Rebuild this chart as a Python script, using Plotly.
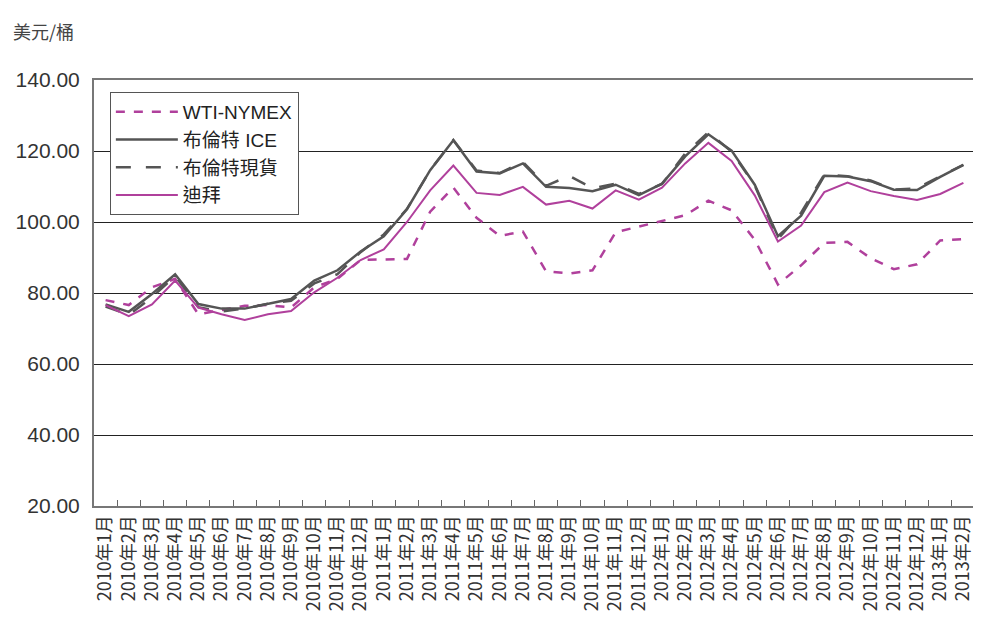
import plotly.graph_objects as go

months = [f"{y}年{m}月" for y in (2010, 2011, 2012) for m in range(1, 13)] + ["2013年1月", "2013年2月"]

wti = [78.0, 76.6, 81.6, 84.0, 74.0, 75.3, 76.4, 76.6, 75.9, 81.6, 84.0, 89.3,
       89.4, 89.6, 102.9, 109.7, 101.2, 96.1, 97.3, 86.1, 85.5, 86.4, 97.1, 98.7,
       100.3, 101.9, 106.0, 103.3, 95.0, 82.4, 87.8, 94.1, 94.4, 89.8, 86.7, 88.1,
       94.8, 95.2]
brent_ice = [76.8, 74.7, 79.7, 85.3, 76.9, 75.6, 75.6, 76.9, 78.3, 83.5, 86.4, 91.7,
             96.0, 103.6, 114.6, 123.0, 114.2, 113.7, 116.5, 109.9, 109.6, 108.7, 110.5, 107.6,
             110.8, 118.5, 124.7, 120.1, 110.5, 96.0, 101.8, 113.0, 112.8, 111.5, 109.1, 109.0,
             112.7, 116.1]
brent_spot = [76.2, 73.8, 78.8, 84.8, 76.0, 74.8, 75.6, 77.0, 77.8, 82.7, 85.3, 91.5,
              96.5, 103.7, 114.6, 123.1, 114.5, 113.8, 116.9, 110.2, 113.0, 109.5, 110.8, 107.9,
              110.7, 119.3, 125.3, 119.8, 110.3, 95.2, 102.6, 113.4, 112.9, 111.7, 109.1, 109.5,
              112.9, 116.1]
dubai = [76.6, 73.5, 76.8, 83.5, 75.9, 74.0, 72.4, 74.0, 74.9, 80.2, 84.3, 89.3,
         92.3, 100.0, 108.9, 115.9, 108.2, 107.6, 109.9, 104.9, 106.0, 103.8, 108.9, 106.3,
         109.7, 116.5, 122.3, 117.2, 107.5, 94.5, 99.0, 108.4, 111.1, 108.7, 107.3, 106.2,
         107.9, 111.0]

names = ["WTI-NYMEX", "布倫特 ICE", "布倫特現貨", "迪拜"]
PURPLE = "#b0409c"
GRAY = "#555555"
FONT = "Liberation Sans, Noto Sans CJK TC, sans-serif"

fig = go.Figure()
fig.add_trace(go.Scatter(x=months, y=wti, name=names[0], mode="lines",
                         line=dict(color=PURPLE, width=2.5, dash="dash")))
fig.add_trace(go.Scatter(x=months, y=brent_ice, name=names[1], mode="lines",
                         line=dict(color=GRAY, width=2.5)))
fig.add_trace(go.Scatter(x=months, y=brent_spot, name=names[2], mode="lines",
                         line=dict(color=GRAY, width=2.5, dash="longdash")))
fig.add_trace(go.Scatter(x=months, y=dubai, name=names[3], mode="lines",
                         line=dict(color=PURPLE, width=2)))

# the page body has an 8px margin, so the figure is sized 8px smaller
fig.update_layout(
    width=973, height=618,
    margin=dict(l=86, r=6, t=72, b=120),
    paper_bgcolor="white", plot_bgcolor="white",
    font=dict(family=FONT, color="#333333"),
    showlegend=True,
    legend=dict(x=0.018, y=0.972, xanchor="left", yanchor="top",
                bgcolor="white", bordercolor="#555555", borderwidth=1,
                font=dict(size=19, color="#222222"), itemwidth=62,
                tracegroupgap=0),
    xaxis=dict(type="category", range=[-0.5, 37.5], tickson="boundaries",
               ticks="inside", ticklen=6, tickcolor="#666666",
               showline=True, linecolor="#777777", linewidth=2, mirror=True,
               showgrid=False, tickangle=-90, automargin=False,
               tickfont=dict(size=18, color="#333333", family="Noto Sans CJK TC")),
    yaxis=dict(range=[20, 140], dtick=20, tickformat=".2f",
               showline=True, linecolor="#777777", linewidth=2, mirror=True,
               showgrid=True, gridcolor="#222222", gridwidth=1, automargin=False,
               ticks="", ticklabelstandoff=8,
               tickfont=dict(size=21, color="#333333"), zeroline=False),
    annotations=[dict(text="美元/桶", xref="paper", yref="paper",
                      x=-0.094, y=1.15, xanchor="left", yanchor="top",
                      showarrow=False,
                      font=dict(size=18, color="#444444", family="Noto Sans CJK TC"))],
)

fig.write_html("out.html")
